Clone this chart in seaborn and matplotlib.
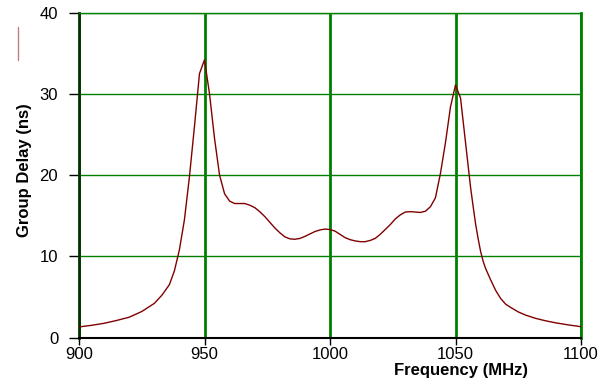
import matplotlib
matplotlib.use("Agg")
import matplotlib.pyplot as plt
from matplotlib.lines import Line2D
import seaborn as sns
import pandas as pd

freq_mhz = [900, 905, 910, 915, 920, 925, 930, 933, 936, 938, 940, 942, 944, 946, 948,
            950, 952, 954, 956, 958, 960, 962, 964, 966, 968, 970, 972, 974, 976, 978,
            980, 982, 984, 986, 988, 990, 992, 994, 996, 998, 1000, 1002, 1004, 1006,
            1008, 1010, 1012, 1014, 1016, 1018, 1020, 1022, 1024, 1026, 1028, 1030,
            1032, 1034, 1036, 1038, 1040, 1042, 1044, 1046, 1048, 1050, 1052, 1054,
            1056, 1057, 1058, 1059, 1060, 1061, 1062, 1063, 1064, 1066, 1068, 1070,
            1072, 1075, 1078, 1082, 1086, 1090, 1095, 1100]
group_delay_ns = [1.3, 1.5, 1.75, 2.1, 2.5, 3.2, 4.2, 5.2, 6.5, 8.2, 10.8, 14.5, 19.8,
                  26.0, 32.5, 34.2, 30.0, 24.5, 20.0, 17.7, 16.8, 16.5, 16.5, 16.5, 16.3,
                  16.0, 15.5, 14.9, 14.2, 13.5, 12.9, 12.4, 12.15, 12.1, 12.2, 12.45,
                  12.75, 13.05, 13.25, 13.35, 13.3, 13.1, 12.7, 12.3, 12.05, 11.9, 11.8,
                  11.8, 11.95, 12.2, 12.7, 13.3, 13.9, 14.6, 15.1, 15.45, 15.5, 15.45,
                  15.4, 15.55, 16.1, 17.2, 20.2, 24.0, 28.4, 31.1, 29.5, 24.0,
                  18.5, 16.2, 14.0, 12.2, 10.6, 9.4, 8.5, 7.8, 7.1, 5.8, 4.8, 4.1,
                  3.7, 3.15, 2.75, 2.35, 2.05, 1.8, 1.55, 1.33]
x_ticks = [900, 950, 1000, 1050, 1100]
y_ticks = [0, 10, 20, 30, 40]

sns.set_style("white")
plt.rcParams['font.family'] = ['Liberation Sans', 'DejaVu Sans']
plt.rcParams['text.color'] = 'black'
plt.rcParams['axes.labelcolor'] = 'black'
plt.rcParams['xtick.color'] = 'black'
plt.rcParams['ytick.color'] = 'black'

df = pd.DataFrame({"Frequency": freq_mhz, "Delay": group_delay_ns})

fig = plt.figure(figsize=(6.02, 3.82), dpi=100)
ax = fig.add_axes([79 / 602, 1 - 337.5 / 382, (581 - 79) / 602, (337.5 - 12.7) / 382])

sns.lineplot(data=df, x="Frequency", y="Delay", color="#800000", linewidth=1.0,
             ax=ax, zorder=3)

ax.set_xlim(900, 1100)
ax.set_ylim(0, 40)
ax.set_xticks(x_ticks)
ax.set_yticks(y_ticks)
ax.set_xticklabels([str(v) for v in x_ticks], fontsize=12)
ax.set_yticklabels([str(v) for v in y_ticks], fontsize=12)

ax.xaxis.grid(True, color="#008000", linewidth=2.0)
ax.yaxis.grid(True, color="#008000", linewidth=1.0)
ax.set_axisbelow(True)

ax.spines['left'].set_color("#003300")
ax.spines['left'].set_linewidth(2.0)
ax.spines['bottom'].set_color("#000000")
ax.spines['bottom'].set_linewidth(1.5)
ax.spines['top'].set_color("#008000")
ax.spines['top'].set_linewidth(1.0)
ax.spines['right'].set_color("#008000")
ax.spines['right'].set_linewidth(2.0)

ax.tick_params(axis='y', direction='out', length=7, width=1, color='black', pad=8,
               left=True)
ax.tick_params(axis='x', direction='out', length=5, width=1, color='black', pad=2,
               bottom=True)

ax.set_ylabel("Group Delay (ns)", fontsize=12, fontweight='bold')
ax.set_xlabel("Frequency (MHz)", fontsize=12, fontweight='bold')
ax.xaxis.set_label_coords(0.761, -0.080)
ax.yaxis.set_label_coords(-0.094, 0.516)

fig.add_artist(Line2D([18 / 602, 18 / 602], [1 - 27 / 382, 1 - 60 / 382],
                      color="#c08080", linewidth=1.0, transform=fig.transFigure))

fig.savefig("out.png", dpi=100)
